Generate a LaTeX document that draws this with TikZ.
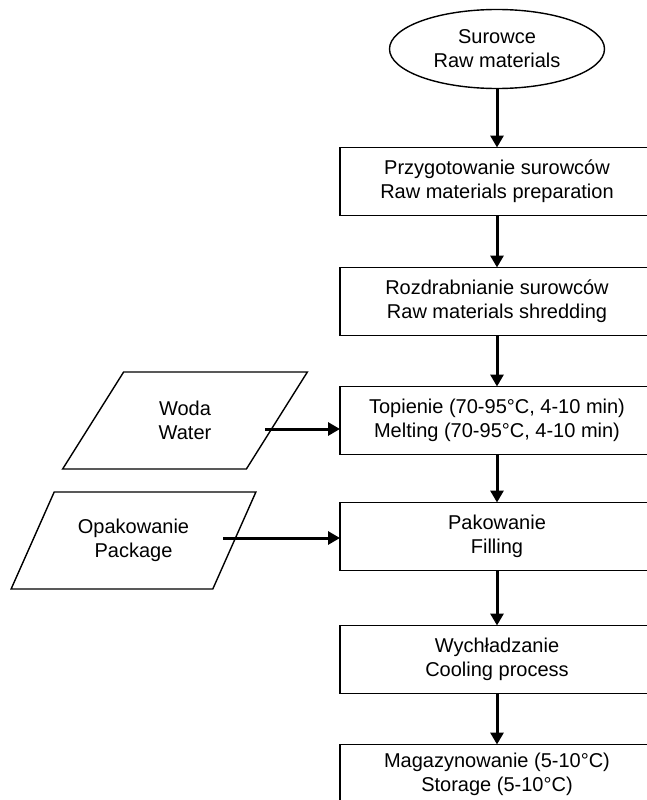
\documentclass[tikz,border=0pt]{standalone}
\usepackage{fontspec}
\setmainfont{Liberation Sans}
\usetikzlibrary{shapes.geometric, arrows.meta, positioning}

\begin{document}
\begin{tikzpicture}[x=1pt, y=-1pt, node distance=51pt, font=\fontsize{20}{24}\selectfont]
        \tikzstyle{source} = [ellipse, minimum width=215pt, minimum height=79pt, inner sep=0pt, outer sep=0pt, align=center, draw=black, line width=1.4pt]
        \tikzstyle{process} = [rectangle, minimum width=314pt, minimum height=68pt, outer sep=0pt, align=center, draw=black, line width=1.4pt]
        \tikzstyle{input} = [trapezium, trapezium left angle=57, trapezium right angle=123, trapezium stretches=true, minimum width=245pt, minimum height=97pt, align=center, draw=black, line width=1.4pt]
        \tikzstyle{arrow} = [line width=3pt, -{Triangle[length=12pt, width=13pt]}]

        \path[use as bounding box] (0,0) rectangle (647,800);
        \clip (0,0) rectangle (647,800);

        \node (surowce) [source] at (497,49) {Surowce\\Raw materials};
        \node (przygot) [process, below=59pt of surowce] {Przygotowanie surowców\\Raw materials preparation};
        \node (rozdrab) [process, below=52pt of przygot] {Rozdrabnianie surowców\\Raw materials shredding};
        \node (topienie) [process, below=of rozdrab] {Topienie (70-95°C, 4-10 min)\\Melting (70-95°C, 4-10 min)};
        \node (pakowanie) [process, below=48pt of topienie] {Pakowanie\\Filling};
        \node (chlodz) [process, below=55pt of pakowanie] {Wychładzanie\\Cooling process};
        \node (magazyn) [process, below=of chlodz, minimum height=60pt] {Magazynowanie (5-10°C)\\Storage (5-10°C)};

        \node (woda) [input] at (185,420.5) {Woda\\Water};
        \node (opak) [input] at (133.5,540.5) {Opakowanie\\Package};
        \coordinate (wodaout) at (265,429);
        \coordinate (opakout) at (223,538);

        \draw [arrow] (surowce) -- (przygot);
        \draw [arrow] (przygot) -- (rozdrab);
        \draw [arrow] (rozdrab) -- (topienie);
        \draw [arrow] (topienie) -- (pakowanie);
        \draw [arrow] (pakowanie) -- (chlodz);
        \draw [arrow] (chlodz) -- (magazyn);

        \draw [arrow] (wodaout) -- (wodaout -| topienie.west);
        \draw [arrow] (opakout) -- (opakout -| pakowanie.west);
\end{tikzpicture}
\end{document}
